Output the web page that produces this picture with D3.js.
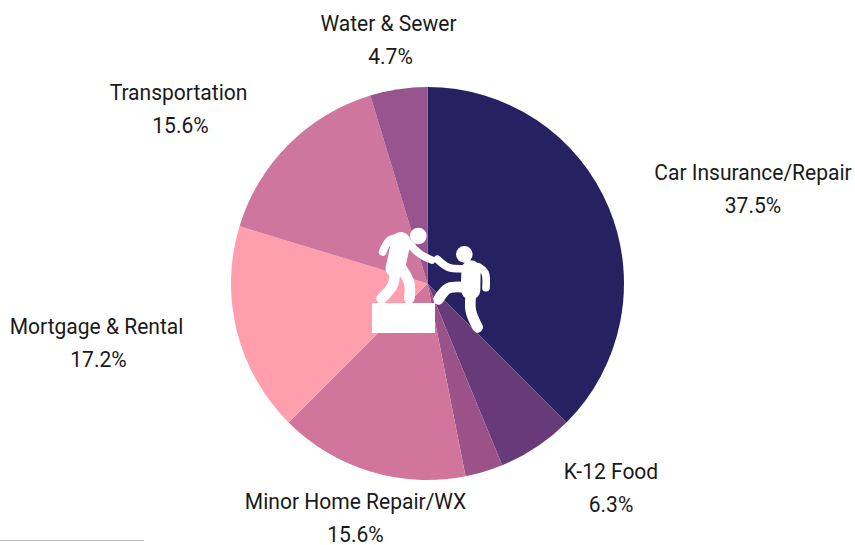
<!DOCTYPE html>
<html>
<head>
<meta charset="utf-8">
<script src="https://cdn.jsdelivr.net/npm/d3@7"></script>
<style>
    html, body { margin: 0; padding: 0; background: #fff; overflow: hidden; }
    text { font-family: Roboto, sans-serif; font-size: 22.5px; fill: #1a1a1a; }
</style>
</head>
<body>
<svg id="chart" width="855" height="545"></svg>
<script>
// Slices clockwise from 12 o'clock
const categories = ["Car Insurance/Repair", "K-12 Food", "", "Minor Home Repair/WX", "Mortgage & Rental", "Transportation", "Water & Sewer"];
const shares = [37.5, 6.3, 3.1, 15.6, 17.2, 15.6, 4.7];
const shareLabels = ["37.5%", "6.3%", "", "15.6%", "17.2%", "15.6%", "4.7%"];
const colors = ["#262262", "#673a7a", "#9b5289", "#d1759d", "#ff9eac", "#cf769e", "#97548e"];

// Label anchors, one per slice (centre x, first baseline y, centre x of the percent)
const labelX = [753, 611, 0, 355.5, 96.5, 178.5, 388.5];
const labelY = [180, 479, 0, 509, 334, 100, 31];
const percentX = [753, 611, 0, 355.5, 98.5, 180.5, 390.5];

const cx = 427.5, cy = 283.5, radius = 196.5;
const textSqueeze = 0.935;
const svg = d3.select("#chart");

const pie = d3.pie().sort(null).value(d => d);
const arc = d3.arc().innerRadius(0).outerRadius(radius);

// Pie slices
svg.append("g")
    .attr("transform", `translate(${cx},${cy})`)
    .selectAll("path")
    .data(pie(shares))
    .join("path")
    .attr("fill", (d, i) => colors[i])
    .attr("d", arc);

// Category and percent labels, squeezed to the narrow look of the original
categories.forEach((name, i) => {
    if (!name) return;
    svg.append("text")
        .attr("text-anchor", "middle")
        .attr("transform", `translate(${labelX[i]},${labelY[i]}) scale(${textSqueeze},1)`)
        .text(name);
    svg.append("text")
        .attr("text-anchor", "middle")
        .attr("transform", `translate(${percentX[i]},${labelY[i] + 33}) scale(${textSqueeze},1)`)
        .text(shareLabels[i]);
});

// Helping hand icon, traced on a 3x grid
const icon = svg.append("g")
    .attr("transform", "translate(350,210) scale(0.3333)")
    .attr("fill", "none")
    .attr("stroke", "#fff")
    .attr("stroke-linecap", "round")
    .attr("stroke-linejoin", "round");

const curve = d3.line().curve(d3.curveCatmullRom);
const thin = [
    [[98, 126], [120, 90], [160, 82]],
    [[165, 88], [210, 132], [245, 150]],
    [[262, 148], [295, 172], [345, 176]],
    [[385, 170], [405, 188], [408, 233]]
];
const legs = [
    [[135, 170], [128, 225], [95, 265]],
    [[155, 175], [178, 220], [178, 265]],
    [[365, 235], [362, 300], [383, 352]],
    [[350, 232], [295, 235], [266, 268]]
];
const torsos = [
    [[153, 95], [136, 175]],
    [[363, 180], [362, 240]]
];
icon.selectAll("path.thin").data(thin).join("path").attr("class", "thin")
    .attr("stroke-width", 23).attr("d", curve);
icon.selectAll("path.leg").data(legs).join("path").attr("class", "leg")
    .attr("stroke-width", 32).attr("d", curve);
icon.selectAll("path.torso").data(torsos).join("path").attr("class", "torso")
    .attr("stroke-width", 58).attr("d", curve);

icon.append("circle").attr("cx", 205).attr("cy", 78).attr("r", 25).attr("fill", "#fff").attr("stroke", "none");
icon.append("circle").attr("cx", 343).attr("cy", 133).attr("r", 25).attr("fill", "#fff").attr("stroke", "none");
icon.append("rect").attr("x", 66).attr("y", 279).attr("width", 189).attr("height", 90).attr("fill", "#fff").attr("stroke", "none");

// Thin rule at the bottom left
svg.append("line")
    .attr("x1", 0).attr("x2", 144)
    .attr("y1", 540.5).attr("y2", 540.5)
    .attr("stroke", "#bdbdbd");
</script>
</body>
</html>
